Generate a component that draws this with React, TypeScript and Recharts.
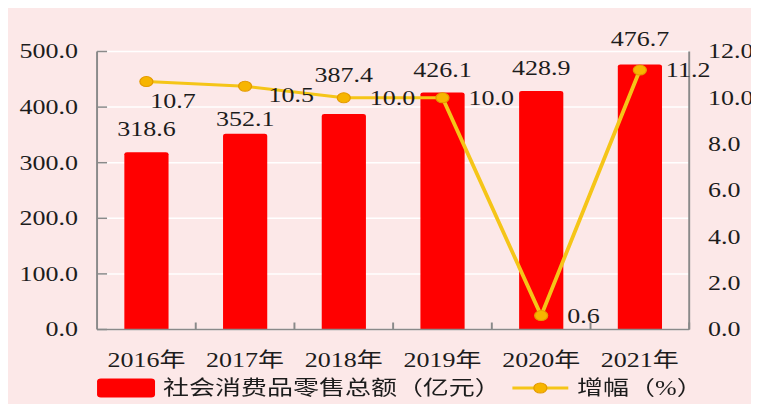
import React from 'react';
import { ComposedChart, Bar, Line, XAxis, YAxis, CartesianGrid, LabelList, Legend } from 'recharts';

const years = ['2016年', '2017年', '2018年', '2019年', '2020年', '2021年'];
const retailSales = [318.6, 352.1, 387.4, 426.1, 428.9, 476.7];
const growthRate = [10.7, 10.5, 10.0, 10.0, 0.6, 11.2];
const leftTicks = [0, 100, 200, 300, 400, 500];
const rightTicks = [0, 2, 4, 6, 8, 10, 12];
const barName = '社会消费品零售总额（亿元）';
const lineName = '增幅（%）';

const data = years.map((year, i) => ({ year, sales: retailSales[i], growth: growthRate[i] }));

// style-only label nudges (px)
const barLabelRise = [23.5, 14.5, 38.5, 22.5, 22.5, 25.5];
const growthLabelShift = [
  [3, 19.5],
  [18, 8.5],
  [20, 0],
  [20, 0],
  [20, 1],
  [20, 0],
];

const FONT = '"Liberation Serif", "Times New Roman", "Noto Sans CJK SC", serif';
const TEXT = '#1c1c1c';
const AXIS = '#8a8a8a';
const BG = '#fce8e8';
const BAR = '#ff0000';
const LINE = '#f5c518';
const STRETCH = 1.3;
const W = 578;
const H = 396;

const LeftTick = (p: any) => {
  const { x, y, payload } = p;
  return (
    <g>
      <line x1={x} x2={x + 7.7} y1={y} y2={y} stroke={AXIS} strokeWidth={1.5} />
      <text x={x - 14.7} y={y} textAnchor="end" dominantBaseline="central" fontFamily={FONT} fontSize={20} fill={TEXT}>
        {Number(payload.value).toFixed(1)}
      </text>
    </g>
  );
};

const RightTick = (p: any) => {
  const { x, y, payload } = p;
  return (
    <text x={x + 14.5} y={y} textAnchor="start" dominantBaseline="central" fontFamily={FONT} fontSize={20} fill={TEXT}>
      {Number(payload.value).toFixed(1)}
    </text>
  );
};

const BottomTick = (p: any) => {
  const { x, y, payload } = p;
  const off = payload.offset || 0;
  return (
    <g>
      <line x1={x + off} x2={x + off} y1={y - 7} y2={y} stroke={AXIS} strokeWidth={1.5} />
      <text x={x} y={y + 30.5} textAnchor="middle" dominantBaseline="central" fontFamily={FONT} fontSize={20} fill={TEXT}>
        {payload.value}
      </text>
    </g>
  );
};

const BarValueLabel = (p: any) => {
  const { x, y, width, value } = p;
  const idx = p.index ?? retailSales.indexOf(Number(value));
  return (
    <text x={x + width / 2} y={y - barLabelRise[idx]} textAnchor="middle" dominantBaseline="central" fontFamily={FONT} fontSize={20} fill={TEXT}>
      {Number(value).toFixed(1)}
    </text>
  );
};

const GrowthLabel = (p: any) => {
  const { x, y, value } = p;
  const idx = p.index ?? growthRate.indexOf(Number(value));
  const [dx, dy] = growthLabelShift[idx] || [20, 0];
  return (
    <text x={x + dx} y={y + dy} textAnchor="start" dominantBaseline="central" fontFamily={FONT} fontSize={20} fill={TEXT}>
      {Number(value).toFixed(1)}
    </text>
  );
};

const LegendContent = () => (
  <svg width={W} height={30} style={{ display: 'block', overflow: 'visible' }}>
    <rect x={68.5} y={6.5} width={44.6} height={19} rx={3} fill={BAR} />
    <text x={119.2} y={16.5} dominantBaseline="central" fontFamily={FONT} fontSize={20} fill={TEXT}>
      {barName}
    </text>
    <line x1={388} x2={431} y1={16} y2={16} stroke={LINE} strokeWidth={3} />
    <circle cx={409.5} cy={16} r={5} fill="#f7b500" stroke="#e49b00" strokeWidth={1} />
    <text x={437.7} y={16.5} dominantBaseline="central" fontFamily={FONT} fontSize={20} fill={TEXT}>
      {lineName}
    </text>
  </svg>
);

export default function App() {
  return (
    <div
      style={{
        width: W,
        height: H,
        background: BG,
        transform: `scaleX(${STRETCH})`,
        transformOrigin: '0 0',
      }}
    >
      <ComposedChart width={W} height={H} data={data} margin={{ top: 43.5, right: 0, left: 0, bottom: 2.5 }}>
        <CartesianGrid yAxisId="left" vertical={false} stroke="#ffffff" strokeWidth={1.5} />
        <XAxis
          dataKey="year"
          height={42}
          interval={0}
          axisLine={{ stroke: AXIS, strokeWidth: 1.5 }}
          tickLine={false}
          tickSize={0}
          tickMargin={0}
          tick={<BottomTick />}
        />
        <YAxis
          yAxisId="left"
          orientation="left"
          width={68.5}
          domain={[0, 500]}
          ticks={leftTicks}
          axisLine={{ stroke: AXIS, strokeWidth: 1.5 }}
          tickLine={false}
          tickSize={0}
          tickMargin={0}
          tick={<LeftTick />}
        />
        <YAxis
          yAxisId="right"
          orientation="right"
          width={54}
          domain={[0, 12]}
          ticks={rightTicks}
          axisLine={{ stroke: AXIS, strokeWidth: 1.5 }}
          tickLine={false}
          tickSize={0}
          tickMargin={0}
          tick={<RightTick />}
        />
        <Legend verticalAlign="bottom" height={30} content={<LegendContent />} />
        <Bar yAxisId="left" dataKey="sales" name={barName} fill={BAR} barSize={34} radius={[2, 2, 0, 0]} isAnimationActive={false}>
          <LabelList dataKey="sales" content={<BarValueLabel />} />
        </Bar>
        <Line
          yAxisId="right"
          type="linear"
          dataKey="growth"
          name={lineName}
          stroke={LINE}
          strokeWidth={3}
          dot={{ r: 5, fill: '#f7b500', stroke: '#e49b00', strokeWidth: 1 }}
          activeDot={false}
          isAnimationActive={false}
        >
          <LabelList dataKey="growth" content={<GrowthLabel />} />
        </Line>
      </ComposedChart>
    </div>
  );
}
